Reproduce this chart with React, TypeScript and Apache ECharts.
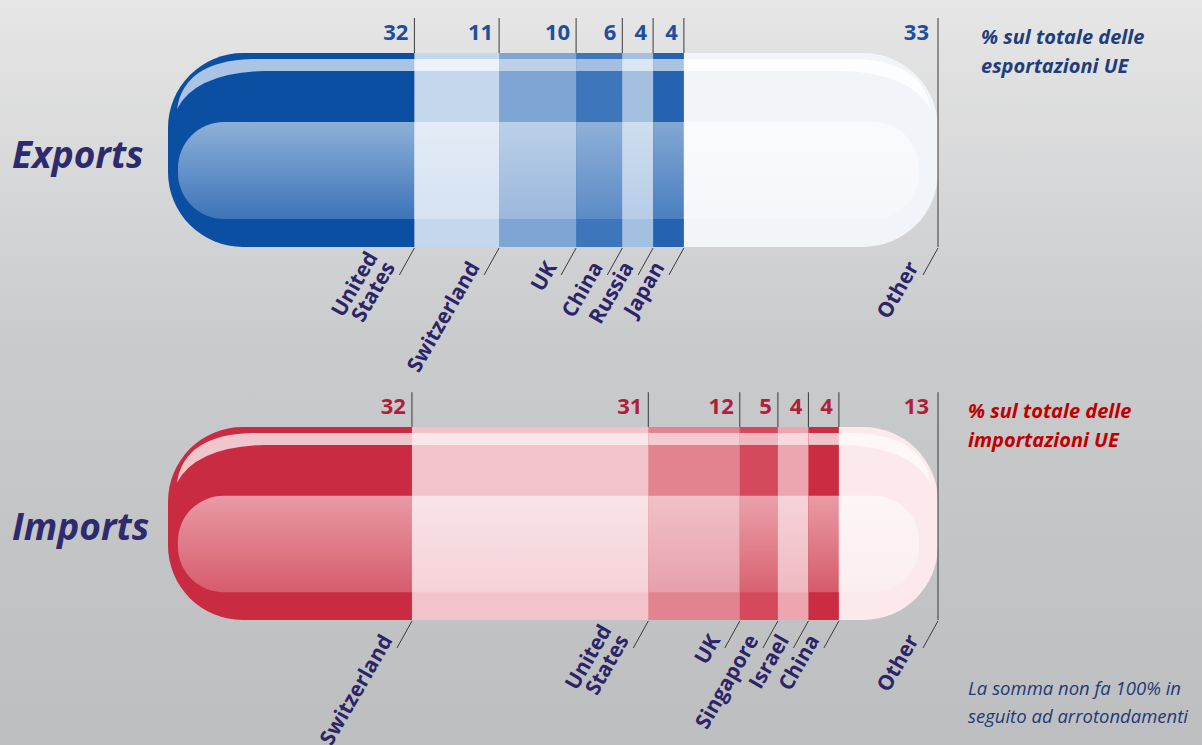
import React, { useEffect, useRef } from "react";
import * as echarts from "echarts";

// ---------- DATA ----------
const exportCountries = ["United\nStates", "Switzerland", "UK", "China", "Russia", "Japan", "Other"];
const exportValues = [32, 11, 10, 6, 4, 4, 33];
const importCountries = ["Switzerland", "United\nStates", "UK", "Singapore", "Israel", "China", "Other"];
const importValues = [32, 31, 12, 5, 4, 4, 13];

const exportsTitle = "Exports";
const importsTitle = "Imports";
const exportsNote = "% sul totale delle\nesportazioni UE";
const importsNote = "% sul totale delle\nimportazioni UE";
const footNote = "La somma non fa 100% in\nseguito ad arrotondamenti";

// ---------- STYLES ----------
type Pal = { band: string; hi: string; midTop: string; midBot: string };
const exportPalette: Pal[] = [
  { band: "#0b4fa3", hi: "#a9c4e4", midTop: "#8eb0d8", midBot: "#3c74b9" },
  { band: "#c5d7ec", hi: "#edf3fa", midTop: "#e3ecf6", midBot: "#d5e2f1" },
  { band: "#7ea5d3", hi: "#bcd0e9", midTop: "#bbcfe8", midBot: "#9bb8dd" },
  { band: "#3d76bb", hi: "#a2bfe1", midTop: "#8fb0d8", midBot: "#5b8bc6" },
  { band: "#a3c0e1", hi: "#d9e6f4", midTop: "#cfdeef", midBot: "#b6cce7" },
  { band: "#2563b0", hi: "#a9c3e3", midTop: "#82a7d3", midBot: "#4a7fc0" },
  { band: "#f1f4f9", hi: "#fcfdfe", midTop: "#f9fafd", midBot: "#f5f7fb" },
];
const importPalette: Pal[] = [
  { band: "#c92c42", hi: "#f1c5cc", midTop: "#e99aa6", midBot: "#d65c6c" },
  { band: "#f2c3cb", hi: "#fae7ea", midTop: "#f9e4e8", midBot: "#f5d2d8" },
  { band: "#e2838f", hi: "#f3cbd1", midTop: "#f1c1c8", midBot: "#e6a1ab" },
  { band: "#d44a5c", hi: "#efb8c0", midTop: "#eaa1ab", midBot: "#d8626f" },
  { band: "#eda6b0", hi: "#f8dade", midTop: "#f6d4d9", midBot: "#efb9c1" },
  { band: "#cc2c42", hi: "#f1c3ca", midTop: "#ea9ba6", midBot: "#d55b6a" },
  { band: "#fbe9ec", hi: "#fef7f8", midTop: "#fdf5f6", midBot: "#fbeef0" },
];

const labelColor = "#2b2468";
const lineColor = "#3a3a3a";

function cumulative(values: number[]) {
  const out: number[][] = [];
  let acc = 0;
  values.forEach((v, i) => {
    out.push([acc, acc + v, i]);
    acc += v;
  });
  return out;
}

function makeRenderItem(values: number[], labels: string[], palette: Pal[], numColor: string) {
  const n = values.length;
  return (params: any, api: any) => {
    const start = api.value(0);
    const end = api.value(1);
    const i = api.value(2);
    const pTL = api.coord([start, 1]);
    const pBR = api.coord([end, 0]);
    const x0 = pTL[0];
    const top = pTL[1];
    const x1 = pBR[0];
    const bot = pBR[1];
    const h = bot - top;
    const s = h / 194;
    const w = x1 - x0;
    const first = i === 0;
    const last = i === n - 1;
    const pal = palette[i];
    const R = 75 * s;
    const children: any[] = [];

    // outer body
    children.push({
      type: "rect",
      shape: { x: x0, y: top, width: w + (last ? 0 : 0.5), height: h, r: first ? [R, 0, 0, R] : last ? [0, R, R, 0] : 0 },
      style: { fill: pal.band },
    });
    // middle (lighter) band
    const mTop = top + 69 * s;
    const mBot = top + 166 * s;
    const mx0 = first ? x0 + 10 * s : x0;
    const mx1 = last ? x1 - 19 * s : x1 + 0.5;
    const mr = 46 * s;
    children.push({
      type: "rect",
      shape: {
        x: mx0,
        y: mTop,
        width: mx1 - mx0,
        height: mBot - mTop,
        r: first ? [mr, 0, 0, mr] : last ? [0, mr, mr, 0] : 0,
      },
      style: {
        fill: {
          type: "linear",
          x: 0,
          y: 0,
          x2: 0,
          y2: 1,
          colorStops: [
            { offset: 0, color: pal.midTop },
            { offset: 1, color: pal.midBot },
          ],
        },
      },
    });
    // highlight stripe
    const hT = top + 6 * s;
    const hB = top + 18 * s;
    let d: string;
    if (first) {
      d = `M ${x0 + 9 * s} ${top + 56 * s} Q ${x0 + 16 * s} ${top + 8 * s} ${x0 + 84 * s} ${hT} L ${x1 + 0.5} ${hT} L ${x1 + 0.5} ${hB} L ${x0 + 96 * s} ${hB} Q ${x0 + 28 * s} ${top + 20 * s} ${x0 + 9 * s} ${top + 56 * s} Z`;
    } else if (last) {
      d = `M ${x1 - 7 * s} ${top + 58 * s} Q ${x1 - 14 * s} ${top + 8 * s} ${x1 - 84 * s} ${hT} L ${x0} ${hT} L ${x0} ${hB} L ${x1 - 96 * s} ${hB} Q ${x1 - 26 * s} ${top + 20 * s} ${x1 - 7 * s} ${top + 58 * s} Z`;
    } else {
      d = `M ${x0} ${hT} L ${x1 + 0.5} ${hT} L ${x1 + 0.5} ${hB} L ${x0} ${hB} Z`;
    }
    children.push({ type: "path", shape: { pathData: d }, style: { fill: pal.hi } });

    // top tick line + value
    children.push({
      type: "line",
      shape: { x1: x1, y1: top - 35 * s, x2: x1, y2: last ? bot : top },
      style: { stroke: lineColor, lineWidth: 1 },
    });
    children.push({
      type: "text",
      x: x1 - (last ? 9 : 6),
      y: top - 22 * s,
      style: {
        text: String(values[i]),
        fill: numColor,
        font: 'bold 22px "Open Sans"',
        align: "right",
        textAlign: "right",
        verticalAlign: "middle",
        textVerticalAlign: "middle",
      },
    });

    // bottom slanted line + rotated category label
    children.push({
      type: "line",
      shape: { x1: x1, y1: bot + 1, x2: x1 - 15, y2: bot + 28 },
      style: { stroke: lineColor, lineWidth: 1 },
    });
    children.push({
      type: "text",
      x: x1 - 17,
      y: bot + 21,
      rotation: Math.PI / 3,
      style: {
        text: labels[i],
        fill: labelColor,
        font: 'bold 21px "Open Sans"',
        lineHeight: 20,
        align: "right",
        textAlign: "right",
        verticalAlign: "bottom",
        textVerticalAlign: "bottom",
      },
    });

    return { type: "group", children };
  };
}

const sum = (a: number[]) => a.reduce((p, c) => p + c, 0);

export default function App() {
  const ref = useRef<HTMLDivElement>(null);
  useEffect(() => {
    if (!ref.current) return;
    const chart = echarts.init(ref.current, null, { renderer: "svg" });
    const option: any = {
      animation: false,
      backgroundColor: {
        type: "linear",
        x: 0,
        y: 0,
        x2: 0,
        y2: 1,
        colorStops: [
          { offset: 0, color: "#e6e6e6" },
          { offset: 0.45, color: "#cacbcd" },
          { offset: 1, color: "#bdbec0" },
        ],
      },
      grid: [
        { left: 168, width: 770, top: 53, height: 194 },
        { left: 168, width: 770, top: 427, height: 193 },
      ],
      xAxis: [
        { gridIndex: 0, type: "value", min: 0, max: sum(exportValues), show: false },
        { gridIndex: 1, type: "value", min: 0, max: sum(importValues), show: false },
      ],
      yAxis: [
        { gridIndex: 0, type: "value", min: 0, max: 1, show: false },
        { gridIndex: 1, type: "value", min: 0, max: 1, show: false },
      ],
      series: [
        {
          type: "custom",
          xAxisIndex: 0,
          yAxisIndex: 0,
          silent: true,
          clip: false,
          encode: { x: [0, 1] },
          data: cumulative(exportValues),
          renderItem: makeRenderItem(exportValues, exportCountries, exportPalette, "#1d4f9c"),
        },
        {
          type: "custom",
          xAxisIndex: 1,
          yAxisIndex: 1,
          silent: true,
          clip: false,
          encode: { x: [0, 1] },
          data: cumulative(importValues),
          renderItem: makeRenderItem(importValues, importCountries, importPalette, "#b01f3a"),
        },
      ],
      graphic: [
        {
          type: "text",
          left: 12,
          top: 135,
          style: { text: exportsTitle, fill: "#2d2a6e", font: 'italic bold 37px "Open Sans"' },
        },
        {
          type: "text",
          left: 12,
          top: 507,
          style: { text: importsTitle, fill: "#2d2a6e", font: 'italic bold 37px "Open Sans"' },
        },
        {
          type: "text",
          left: 981,
          top: 22,
          style: { text: exportsNote, fill: "#1f3d7a", font: 'italic bold 20px "Open Sans"', lineHeight: 29 },
        },
        {
          type: "text",
          left: 968,
          top: 396,
          style: { text: importsNote, fill: "#c00000", font: 'italic bold 20px "Open Sans"', lineHeight: 29 },
        },
        {
          type: "text",
          left: 968,
          top: 673,
          style: { text: footNote, fill: "#1f3a78", font: 'italic 18.5px "Open Sans"', lineHeight: 28 },
        },
      ],
    };
    chart.setOption(option);
    return () => chart.dispose();
  }, []);
  return (
    <div
      ref={ref}
      style={{ position: "absolute", left: 0, top: 0, width: 1202, height: 745 }}
    />
  );
}
